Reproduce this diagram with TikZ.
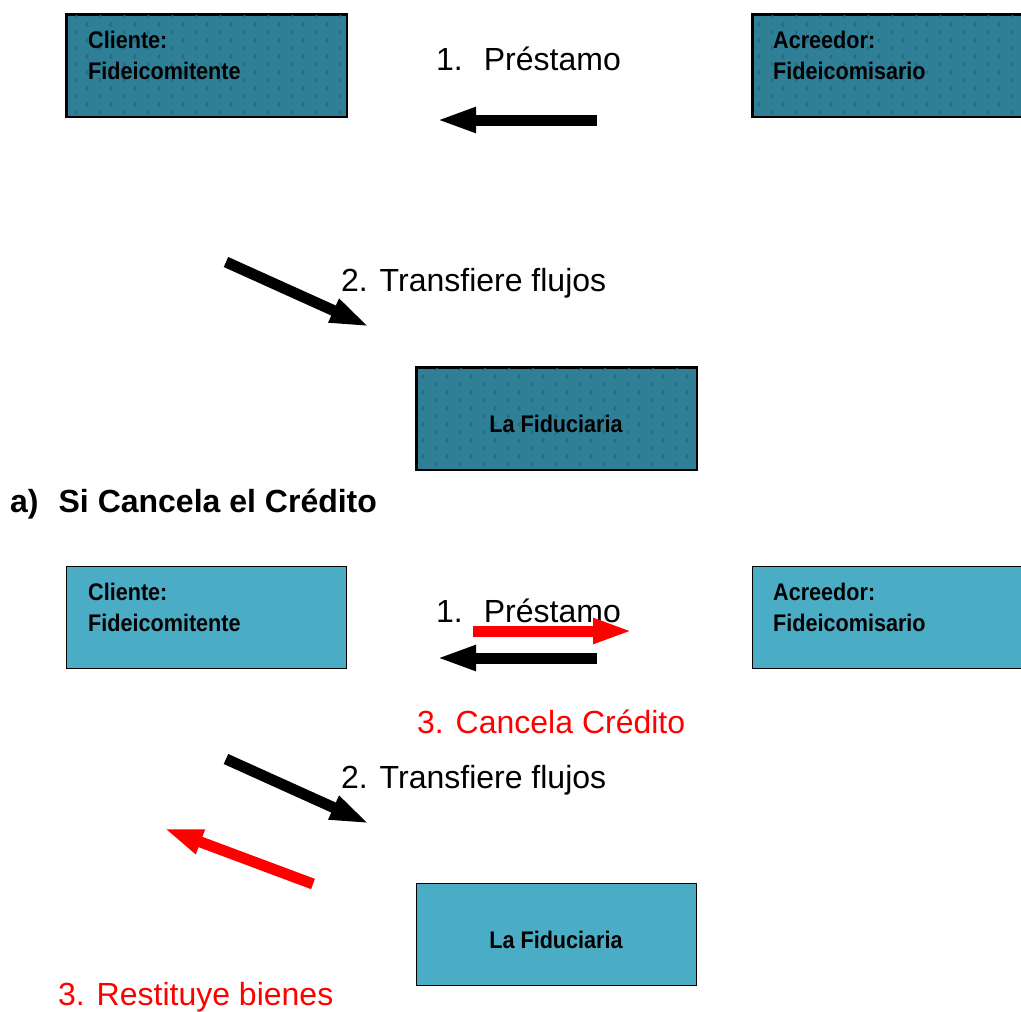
\documentclass[tikz,border=0pt]{standalone}
\usepackage{fontspec}
\setmainfont{Liberation Sans}
\newfontfamily\narrowf[FakeStretch=0.9]{Liberation Sans}
\usetikzlibrary{arrows.meta,patterns.meta}
\definecolor{boxdark}{HTML}{2F7F96}
\definecolor{boxlight}{HTML}{4BACC6}
\definecolor{chevcol}{HTML}{22657A}
\tikzdeclarepattern{
  name=chev,
  type=uncolored,
  bounding box={(0pt,0pt) and (24pt,16pt)},
  tile size={(24pt,16pt)},
  code={
    \draw[line width=1pt] (3pt,2pt)--(5.5pt,4pt)--(3pt,6pt);
    \draw[line width=1pt] (17pt,10pt)--(14.5pt,12pt)--(17pt,14pt);
  }
}
\tikzset{
  boxd/.style={draw=black, line width=1.6pt, fill=boxdark},
  boxl/.style={draw=black, line width=1.2pt, fill=boxlight},
  boxtext/.style={font=\narrowf\bfseries\fontsize{24}{31}\selectfont, align=left, inner sep=0pt, text=black},
  lbl/.style={font=\fontsize{32}{36}\selectfont, inner sep=0pt, anchor=base west},
  blockarrow/.style={line width=11pt, -{Triangle[length=40pt,width=23pt]}},
}
\begin{document}
\begin{tikzpicture}[x=1pt,y=-1pt]
\useasboundingbox (0,0) rectangle (1021,1012);
\begin{scope}
\clip (0,0) rectangle (1021,1012);
% ---------- top half ----------
\node[boxd, minimum width=280pt, minimum height=102pt, anchor=north west, inner sep=0pt] (cli1) at (66,14) {};
\fill[pattern=chev, pattern color=chevcol] (cli1.south west) rectangle (cli1.north east);
\node[boxd, minimum width=280pt, minimum height=102pt, anchor=north west, inner sep=0pt] (acr1) at (752,14) {};
\fill[pattern=chev, pattern color=chevcol] (acr1.south west) rectangle (acr1.north east);
\node[boxd, minimum width=280pt, minimum height=102pt, anchor=north west, inner sep=0pt] (fid1) at (416,367) {};
\fill[pattern=chev, pattern color=chevcol] (fid1.south west) rectangle (fid1.north east);
\draw[line width=1.6pt] (cli1.south west) rectangle (cli1.north east);
\draw[line width=1.6pt] (acr1.south west) rectangle (acr1.north east);
\draw[line width=1.6pt] (fid1.south west) rectangle (fid1.north east);
\node[boxtext, anchor=north west] (cli1t) at (88,31) {Cliente:\\Fideicomitente};
\node[boxtext, anchor=north west] (acr1t) at (773,31) {Acreedor:\\Fideicomisario};
\node[boxtext, anchor=base] (fid1t) at (556,432) {La Fiduciaria};

\node[lbl] (pre1) at (436,70) {1.\hspace{21pt}Préstamo};
\node[lbl] (tra1) at (341,291) {2. Transfiere flujos};

\coordinate (a1s) at (597,120); \coordinate (a1e) at (436,120);
\coordinate (a2s) at (226,262); \coordinate (a2e) at (370,327);
\draw[blockarrow, black] (a1s) -- (a1e);
\draw[blockarrow, black] (a2s) -- (a2e);

% ---------- heading ----------
\node[lbl, font=\bfseries\fontsize{32}{36}\selectfont] (head) at (10,512) {a)\hspace{20pt}Si Cancela el Crédito};

% ---------- bottom half ----------
\node[boxl, minimum width=280pt, minimum height=102pt, anchor=north west, inner sep=0pt] (cli2) at (66,566) {};
\node[boxl, minimum width=280pt, minimum height=102pt, anchor=north west, inner sep=0pt] (acr2) at (752,566) {};
\node[boxl, minimum width=280pt, minimum height=102pt, anchor=north west, inner sep=0pt] (fid2) at (416,883) {};
\node[boxtext, anchor=north west] (cli2t) at (88,583) {Cliente:\\Fideicomitente};
\node[boxtext, anchor=north west] (acr2t) at (773,583) {Acreedor:\\Fideicomisario};
\node[boxtext, anchor=base] (fid2t) at (556,948) {La Fiduciaria};

\node[lbl] (pre2) at (436,622) {1.\hspace{21pt}Préstamo};
\node[lbl, text=red] (can2) at (417,733) {3. Cancela Crédito};
\node[lbl] (tra2) at (341,788) {2. Transfiere flujos};
\node[lbl, text=red] (res2) at (58,1005) {3. Restituye bienes};

\coordinate (b1s) at (473,631); \coordinate (b1e) at (633,631);
\coordinate (b2s) at (597,658); \coordinate (b2e) at (436,658);
\coordinate (b3s) at (226,759); \coordinate (b3e) at (370,824);
\coordinate (b4s) at (313,884); \coordinate (b4e) at (163,828);
\draw[blockarrow, red] (b1s) -- (b1e);
\draw[blockarrow, black] (b2s) -- (b2e);
\draw[blockarrow, black] (b3s) -- (b3e);
\draw[blockarrow, red] (b4s) -- (b4e);
\end{scope}
\end{tikzpicture}
\end{document}
